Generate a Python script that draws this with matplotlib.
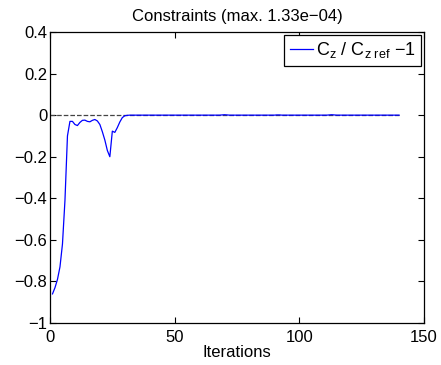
import matplotlib
matplotlib.use("Agg")
import matplotlib.pyplot as plt

plt.rcParams['font.family'] = ['Liberation Sans', 'DejaVu Sans']
plt.rcParams['mathtext.fontset'] = 'custom'
plt.rcParams['mathtext.rm'] = 'Liberation Sans'
plt.rcParams['mathtext.it'] = 'Liberation Sans'
plt.rcParams['axes.unicode_minus'] = True

head = [-0.86, -0.83, -0.79, -0.73, -0.62, -0.41, -0.10, -0.03, -0.03, -0.045,
        -0.05, -0.035, -0.025, -0.024, -0.03, -0.032, -0.025, -0.021, -0.028, -0.045,
        -0.08, -0.12, -0.17, -0.20, -0.077, -0.083, -0.06, -0.033, -0.012, -0.003,
        -0.001, 0.0]
tail = [0.0, 0.0, 0.0, 0.0, 0.0, 0.0, 0.0, 0.0, 0.0, 0.0,
        0.0, 0.0, 0.0, 0.0, 0.0, 0.0, 0.0, 0.0, 0.0, 0.0,
        0.0, 0.0, 0.0, 0.0, 0.0, 0.0, 0.0, 0.0, 0.0, 0.0,
        0.0, 0.0, 0.0, 0.0, 0.0, 0.0, 0.001, 0.002, 0.001, 0.0,
        0.0, 0.0, 0.0, 0.0, 0.0, 0.0, 0.0, 0.0, 0.0, 0.0,
        0.0, 0.0, 0.0, 0.0, 0.0, 0.0, 0.0, 0.0, 0.001, 0.001,
        0.0, 0.0, 0.0, 0.0, 0.0, 0.0, 0.0, 0.0, 0.0, 0.0,
        0.0, 0.0, 0.0, 0.0, 0.0, 0.0, 0.0, 0.0, 0.0, 0.001,
        0.002, 0.001, 0.0, 0.0, 0.0, 0.0, 0.0, 0.0, 0.0, 0.0,
        0.0, 0.0, 0.0, 0.0, 0.0, 0.0, 0.0, 0.0, 0.0, 0.0,
        0.0, 0.0, 0.0, 0.0, 0.0, 0.0, 0.0, 0.0]
values = head + tail
iterations = list(range(1, len(values) + 1))
ref_x = [0, 140]
ref_y = [0, 0]
xticks = [0, 50, 100, 150]
yticks = [-1, -0.8, -0.6, -0.4, -0.2, 0, 0.2, 0.4]
yticklabels = ['\u22121', '\u22120.8', '\u22120.6', '\u22120.4', '\u22120.2', '0', '0.2', '0.4']

fig = plt.figure(figsize=(4.41, 3.65), dpi=100)
ax = fig.add_axes([50/441, 1-323/365, 374/441, 291/365])
ax.plot(ref_x, ref_y, '--', color='#444444', lw=0.9)
ax.plot(iterations, values, color='#0000ff', lw=0.9,
        label=r'C$_z$ / C$_{z\ \mathrm{ref}}$ $-$1')
ax.set_xlim(0, 150)
ax.set_ylim(-1, 0.4)
ax.set_xticks(xticks)
ax.set_xticklabels([str(t) for t in xticks])
ax.set_yticks(yticks)
ax.set_yticklabels(yticklabels)
ax.tick_params(direction='in', top=True, right=True, labelsize=12, length=4, width=0.8, pad=2)
ax.tick_params(axis='x', pad=5)
for s in ax.spines.values():
    s.set_linewidth(0.9)
ax.set_xlabel('Iterations', fontsize=12, labelpad=0)
ax.set_title('Constraints (max. 1.33e\u221204)', fontsize=12, pad=8)
leg = ax.legend(loc='upper right', fontsize=13, handlelength=1.3, handletextpad=0.17,
                borderaxespad=0.15, borderpad=0.3, fancybox=False, framealpha=1)
leg.get_frame().set_edgecolor('black')
leg.get_frame().set_linewidth(0.9)
fig.savefig('out.png', dpi=100)
